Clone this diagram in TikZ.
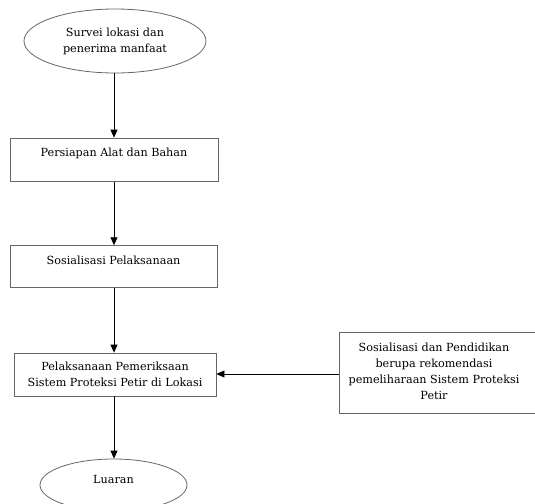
\documentclass[tikz,border=0pt]{standalone}
\usepackage{fontspec}
\setmainfont{DejaVu Serif}
\usetikzlibrary{shapes.geometric,arrows.meta}
\begin{document}
\begin{tikzpicture}[x=1pt,y=-1pt,
  every node/.style={font=\fontsize{11.2}{16}\selectfont, text=black},
  boxn/.style={draw=black!60, line width=0.8pt, rectangle, inner sep=0pt},
  ovaln/.style={draw=black!60, line width=0.8pt, ellipse, inner sep=0pt, align=center},
  txtn/.style={inner sep=0pt, align=center},
  arr/.style={line width=0.8pt, draw=black, -{Triangle[length=8pt,width=7pt]}}]
\useasboundingbox (0,0) rectangle (535,503);
\node[ovaln, minimum width=182pt, minimum height=64pt] (s) at (115,41) {Survei lokasi dan\\penerima manfaat};
\node[boxn, minimum width=208pt, minimum height=43.5pt] (b1) at (114,159.8) {};
\node[txtn] (t1) at (114,153) {Persiapan Alat dan Bahan};
\node[boxn, minimum width=207pt, minimum height=42pt] (b2) at (113.5,266.7) {};
\node[txtn] (t2) at (113.5,260) {Sosialisasi Pelaksanaan};
\node[boxn, minimum width=202pt, minimum height=43pt, align=center] (b3) at (115,374.5) {Pelaksanaan Pemeriksaan\\Sistem Proteksi Petir di Lokasi};
\node[boxn, minimum width=200pt, minimum height=81pt, text width=196pt, align=center] (r) at (439,372.5) {};
\node[txtn] (rt) at (434,371) {Sosialisasi dan Pendidikan\\berupa rekomendasi\\pemeliharaan Sistem Proteksi\\Petir};
\node[ovaln, minimum width=147pt, minimum height=52pt] (l) at (113.5,485) {};
\node[txtn] (lt) at (113.5,479) {Luaran};
\draw[arr] (s.south -| b1.north) -- (b1.north);
\draw[arr] (b1.south) -- (b2.north -| b1.south);
\draw[arr] (b2.south -| b1.south) -- (b3.north -| b1.south);
\draw[arr] (b3.south -| b1.south) -- (l.north -| b1.south);
\draw[arr] (r.west |- 0,374) -- (b3.east |- 0,374);
\end{tikzpicture}
\end{document}
